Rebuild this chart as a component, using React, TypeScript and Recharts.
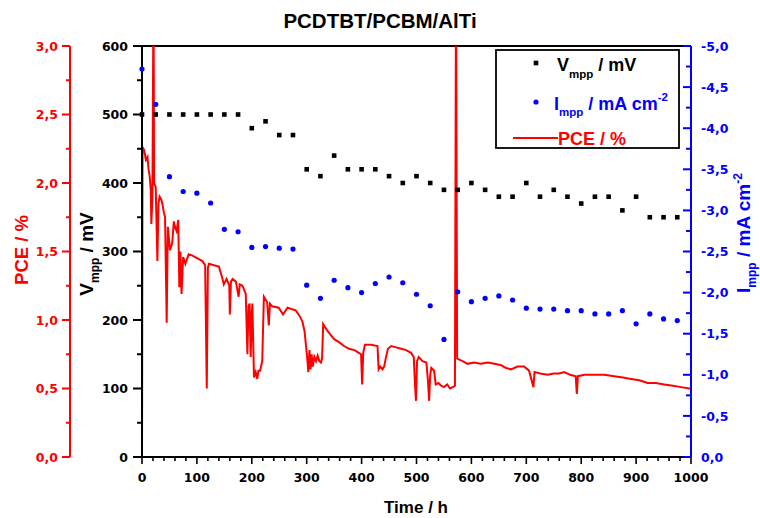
import React from 'react';
import { ComposedChart, Line, Scatter, XAxis, YAxis, ReferenceLine } from 'recharts';

const LABEL_FONT = '"Liberation Sans", Arial, sans-serif';
const TICK_FONT = '"DejaVu Sans", sans-serif';
const RED = '#ff0000';
const BLUE = '#0000ff';

// measurement times for Vmpp / Impp (h)
const hours = [
  0, 25, 50, 75, 100, 125, 150, 175, 200, 225,
  250, 275, 300, 325, 350, 375, 400, 425, 450, 475,
  500, 525, 550, 575, 600, 625, 650, 675, 700, 725,
  750, 775, 800, 825, 850, 875, 900, 925, 950, 975,
];

const vmpp = [
  500, 500, 500, 500, 500, 500, 500, 500, 480, 490,
  470, 470, 420, 410, 440, 420, 420, 420, 410, 400,
  410, 400, 390, 390, 400, 390, 380, 380, 400, 380,
  390, 380, 370, 380, 380, 360, 380, 350, 350, 350,
];

const impp = [
  -4.72, -4.29, -3.41, -3.23, -3.21, -3.09, -2.77, -2.74, -2.55, -2.56,
  -2.54, -2.53, -2.09, -1.93, -2.15, -2.06, -2.0, -2.11, -2.19, -2.12,
  -1.98, -1.84, -1.43, -2.01, -1.89, -1.93, -1.96, -1.91, -1.81, -1.8,
  -1.8, -1.78, -1.78, -1.74, -1.74, -1.78, -1.62, -1.74, -1.68, -1.66,
];

// PCE trace (h, %)
const pceHours = [
  0, 1, 4, 7, 10, 12, 14, 16, 17, 19,
  21, 22, 25, 28, 30, 32, 35, 37, 40, 42,
  45, 47, 51, 55, 58, 60, 63, 66, 68, 70,
  72, 75, 79, 85, 92, 101, 110, 115, 118, 120,
  122, 131, 140, 146, 149, 154, 159, 160, 162, 165,
  171, 176, 178, 183, 189, 192, 194, 196, 198, 200,
  201, 204, 207, 210, 212, 215, 219, 222, 228, 231,
  233, 237, 249, 257, 265, 272, 280, 287, 292, 296,
  299, 301, 303, 305, 307, 309, 311, 314, 317, 320,
  323, 326, 328, 330, 333, 338, 344, 350, 358, 368,
  377, 387, 395, 399, 401, 403, 406, 417, 429, 431,
  434, 438, 441, 444, 448, 454, 463, 472, 481, 490,
  495, 497, 499, 501, 504, 511, 518, 521, 523, 525,
  527, 532, 535, 540, 545, 550, 556, 561, 566, 570,
  572, 574, 578, 584, 593, 605, 617, 630, 642, 654,
  663, 672, 684, 696, 705, 713, 715, 725, 739, 750,
  760, 769, 780, 790, 792, 794, 806, 824, 842, 860,
  876, 891, 906, 921, 936, 951, 967, 982, 997, 1000,
];

const pceValues = [
  0, 2.26, 2.24, 2.17, 2.19, 2.1, 2.05, 1.95, 1.7, 1.9,
  3.5, 2.0, 1.97, 1.43, 1.85, 1.9, 1.88, 1.85, 1.78, 1.75,
  0.98, 1.68, 1.51, 1.56, 1.72, 1.68, 1.65, 1.73, 1.24, 1.5,
  1.19, 1.46, 1.41, 1.48, 1.47, 1.45, 1.43, 1.4, 0.5, 1.38,
  1.41, 1.4, 1.39, 1.31, 1.26, 1.3, 1.25, 1.04, 1.28, 1.3,
  1.28, 1.17, 1.26, 1.25, 1.19, 0.75, 1.1, 1.12, 0.73, 1.05,
  1.12, 0.58, 0.62, 0.57, 0.63, 0.63, 0.7, 1.17, 1.13, 0.96,
  1.12, 1.1, 1.09, 1.04, 1.09, 1.08, 1.07, 1.03, 0.99, 0.92,
  0.8, 0.72, 0.62, 0.78, 0.64, 0.75, 0.66, 0.73, 0.7, 0.74,
  0.7, 0.69, 0.72, 0.97, 0.95, 0.92, 0.89, 0.86, 0.84, 0.81,
  0.79, 0.78, 0.76, 0.75, 0.53, 0.76, 0.82, 0.82, 0.81, 0.64,
  0.66, 0.64, 0.66, 0.72, 0.79, 0.81, 0.8, 0.79, 0.78, 0.76,
  0.73, 0.55, 0.41, 0.7, 0.73, 0.7, 0.69, 0.55, 0.41, 0.6,
  0.65, 0.63, 0.53, 0.54, 0.52, 0.51, 0.53, 0.5, 0.51, 0.52,
  3.5, 0.72, 0.71, 0.7, 0.68, 0.69, 0.68, 0.69, 0.68, 0.67,
  0.65, 0.64, 0.66, 0.66, 0.63, 0.51, 0.62, 0.61, 0.6, 0.61,
  0.61, 0.62, 0.6, 0.59, 0.46, 0.59, 0.6, 0.6, 0.6, 0.59,
  0.58, 0.57, 0.56, 0.54, 0.54, 0.53, 0.52, 0.51, 0.5, 0.5,
];

const xTicks = [0, 20, 40, 60, 80, 100, 120, 140, 160, 180, 200, 220, 240, 260, 280, 300, 320, 340, 360, 380, 400,
  420, 440, 460, 480, 500, 520, 540, 560, 580, 600, 620, 640, 660, 680, 700, 720, 740, 760, 780, 800,
  820, 840, 860, 880, 900, 920, 940, 960, 980, 1000];
const vTicks = [0, 50, 100, 150, 200, 250, 300, 350, 400, 450, 500, 550, 600];
const pceTicks = [0, 0.25, 0.5, 0.75, 1, 1.25, 1.5, 1.75, 2, 2.25, 2.5, 2.75, 3];
const iTicks = [-5, -4.75, -4.5, -4.25, -4, -3.75, -3.5, -3.25, -3, -2.75, -2.5, -2.25, -2, -1.75, -1.5, -1.25, -1, -0.75, -0.5, -0.25, 0];

const vData = hours.map((t, k) => ({ t, v: vmpp[k] }));
const iData = hours.map((t, k) => ({ t, i: impp[k] }));
const pceData = pceHours.map((t, k) => ({ t, pce: pceValues[k] }));

const isHalf = (v: number) => Math.abs(v * 2 - Math.round(v * 2)) < 1e-6;
const comma = (v: number) => v.toFixed(1).replace('.', ',');

const tickText = { fontFamily: TICK_FONT, fontWeight: 'bold' as const, fontSize: 12.5 };

const XTick = (p: any) => {
  const { x, y, payload } = p;
  const major = payload.value % 100 === 0;
  return (
    <g>
      <line x1={x} x2={x} y1={y} y2={y + (major ? 7 : 4)} stroke="#000" strokeWidth={1.6} />
      {major && (
        <text x={x} y={y + 25} textAnchor="middle" fill="#000" {...tickText}>{payload.value}</text>
      )}
    </g>
  );
};

const VTick = (p: any) => {
  const { x, y, payload } = p;
  const major = payload.value % 100 === 0;
  return (
    <g>
      <line x1={x - (major ? 9 : 5)} x2={x} y1={y} y2={y} stroke="#000" strokeWidth={2} />
      {major && (
        <text x={x - 14} y={y + 4.6} textAnchor="end" fill="#000" {...tickText}>{payload.value}</text>
      )}
    </g>
  );
};

const PceTick = (p: any) => {
  const { x, y, payload } = p;
  const major = isHalf(payload.value);
  return (
    <g>
      <line x1={x - (major ? 8 : 4)} x2={x} y1={y} y2={y} stroke={RED} strokeWidth={2} />
      {major && (
        <text x={x - 12} y={y + 4.6} textAnchor="end" fill={RED} {...tickText}>{comma(payload.value)}</text>
      )}
    </g>
  );
};

const ITick = (p: any) => {
  const { x, y, payload } = p;
  const major = isHalf(payload.value);
  return (
    <g>
      <line x1={x - (major ? 8 : 5)} x2={x} y1={y} y2={y} stroke={BLUE} strokeWidth={2} />
      {major && (
        <text x={x + 10} y={y + 4.6} textAnchor="start" fill={BLUE} {...tickText}>{comma(payload.value)}</text>
      )}
    </g>
  );
};

const Square = (p: any) => <rect x={p.cx - 2.3} y={p.cy - 2.3} width={4.6} height={4.6} fill="#000" />;
const Dot = (p: any) => <circle cx={p.cx} cy={p.cy} r={2.6} fill={BLUE} />;

const labelText = { fontFamily: LABEL_FONT, fontWeight: 'bold' as const };

const PceLabel = () => (
  <text x={28} y={250} transform="rotate(-90, 28, 250)" textAnchor="middle" fill={RED} fontSize={18.5} {...labelText}>
    PCE / %
  </text>
);

const VLabel = () => (
  <text x={93} y={254} transform="rotate(-90, 93, 254)" textAnchor="middle" fill="#000" fontSize={19} {...labelText}>
    V<tspan fontSize={12} dy={6}>mpp</tspan><tspan dy={-6}> / mV</tspan>
  </text>
);

const ILabel = () => (
  <text x={750} y={233} transform="rotate(-90, 750, 233)" textAnchor="middle" fill={BLUE} fontSize={19} {...labelText}>
    I<tspan fontSize={12} dy={6}>mpp</tspan><tspan dy={-6}> / mA cm</tspan><tspan fontSize={12} dy={-8}>-2</tspan>
  </text>
);

const TimeLabel = () => (
  <text x={416} y={513} textAnchor="middle" fill="#000" fontSize={17} {...labelText}>Time / h</text>
);

export default function App() {
  return (
    <div style={{ position: 'absolute', left: 0, top: 0, width: 760, height: 518, background: '#fff' }}>
      <ComposedChart width={760} height={518} margin={{ top: 46, right: 0, bottom: 0, left: 0 }}>
        <XAxis
          dataKey="t"
          type="number"
          domain={[0, 1000]}
          ticks={xTicks}
          interval={0}
          height={61}
          tickSize={0}
          tickMargin={0}
          tickLine={false}
          axisLine={{ stroke: '#000', strokeWidth: 2 }}
          tick={XTick}
          label={TimeLabel}
        />
        <YAxis
          yAxisId="a_v"
          type="number"
          domain={[0, 600]}
          ticks={vTicks}
          interval={0}
          width={72}
          tickSize={0}
          tickMargin={0}
          tickLine={false}
          axisLine={{ stroke: '#000', strokeWidth: 2 }}
          tick={VTick}
          label={VLabel}
        />
        <YAxis
          yAxisId="b_pce"
          type="number"
          domain={[0, 3]}
          allowDataOverflow
          ticks={pceTicks}
          interval={0}
          width={70}
          tickSize={0}
          tickMargin={0}
          tickLine={false}
          axisLine={{ stroke: RED, strokeWidth: 2 }}
          tick={PceTick}
          label={PceLabel}
        />
        <YAxis
          yAxisId="i"
          orientation="right"
          type="number"
          domain={[-5, 0]}
          reversed
          ticks={iTicks}
          interval={0}
          width={69}
          tickSize={0}
          tickMargin={0}
          tickLine={false}
          axisLine={{ stroke: BLUE, strokeWidth: 2 }}
          tick={ITick}
          label={ILabel}
        />
        <ReferenceLine yAxisId="a_v" y={600} stroke="#000" strokeWidth={2} />
        <Line
          data={pceData}
          yAxisId="b_pce"
          dataKey="pce"
          type="linear"
          stroke={RED}
          strokeWidth={2}
          dot={false}
          isAnimationActive={false}
        />
        <Scatter data={vData} yAxisId="a_v" dataKey="v" fill="#000" shape={Square} isAnimationActive={false} />
        <Scatter data={iData} yAxisId="i" dataKey="i" fill={BLUE} shape={Dot} isAnimationActive={false} />
      </ComposedChart>
      <svg width={760} height={518} style={{ position: 'absolute', left: 0, top: 0, pointerEvents: 'none' }}>
        <text x={380} y={28} textAnchor="middle" fill="#000" fontSize={20.5} {...labelText}>PCDTBT/PCBM/AlTi</text>
        <rect x={496} y={50} width={183} height={98} fill="#fff" stroke="#000" strokeWidth={1.8} />
        <rect x={533.7} y={60.7} width={4.6} height={4.6} fill="#000" />
        <text x={557} y={70.5} fill="#000" fontSize={18} {...labelText}>
          V<tspan fontSize={11.5} dy={7}>mpp</tspan><tspan dy={-7}> / mV</tspan>
        </text>
        <circle cx={536} cy={102} r={2.6} fill={BLUE} />
        <text x={554} y={110} fill={BLUE} fontSize={18} {...labelText}>
          I<tspan fontSize={11.5} dy={6}>mpp</tspan><tspan dy={-6}> / mA cm</tspan><tspan fontSize={11.5} dy={-9}>-2</tspan>
        </text>
        <line x1={513} x2={558} y1={138} y2={138} stroke={RED} strokeWidth={1.8} />
        <text x={558} y={145} fill={RED} fontSize={18} {...labelText}>PCE / %</text>
      </svg>
    </div>
  );
}
